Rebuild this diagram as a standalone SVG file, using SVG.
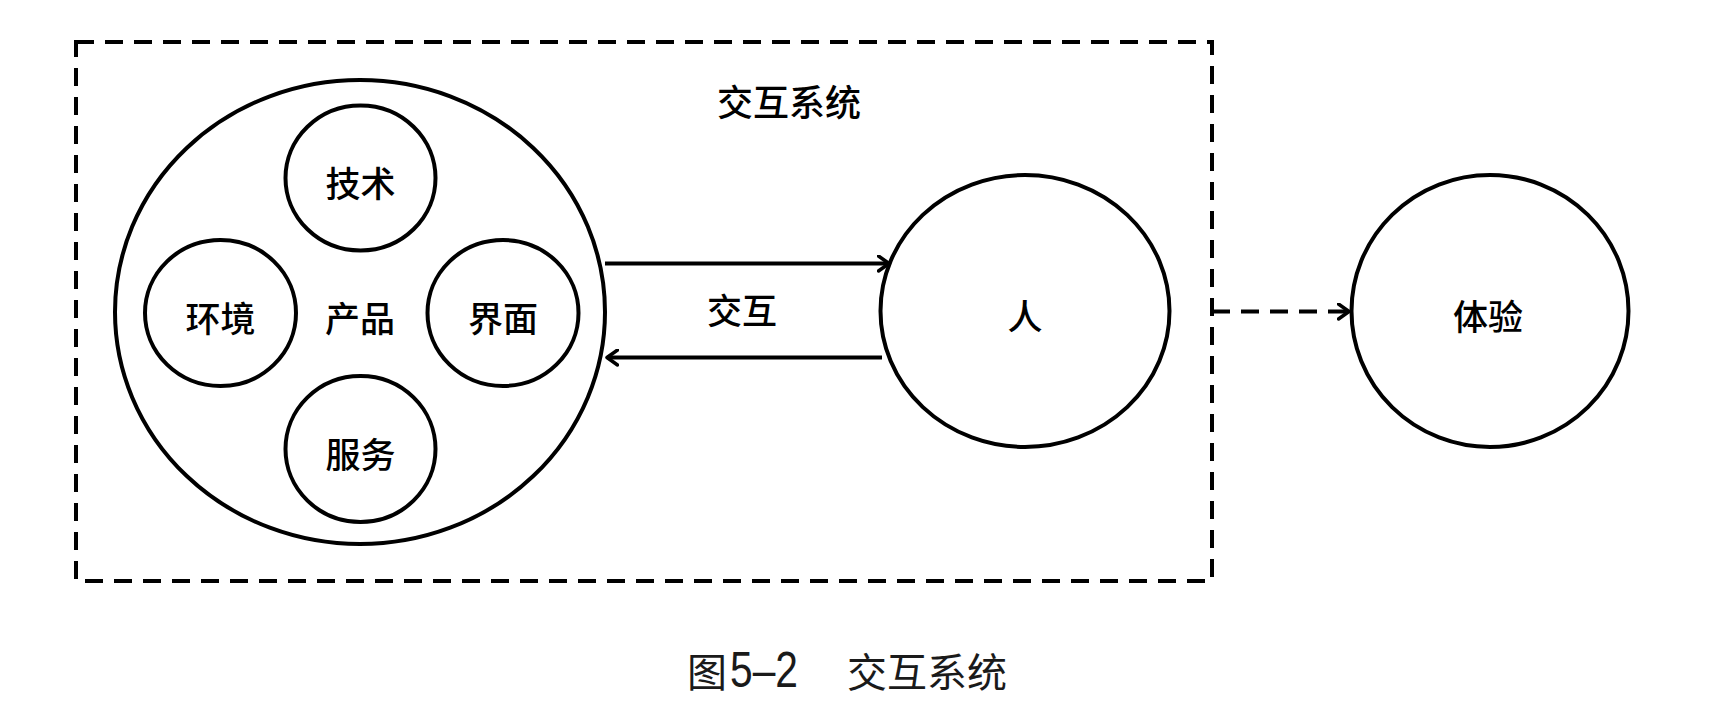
<svg xmlns="http://www.w3.org/2000/svg" width="1714" height="728" viewBox="0 0 1714 728">
  <style>
    .node { fill: #ffffff; stroke: #000000; stroke-width: 4; }
    .lbl { font-family: "Noto Sans CJK SC", "Noto Sans", sans-serif; font-size: 35px; fill: #000000; text-anchor: middle; dominant-baseline: central; font-weight: 500; }
    .edge { fill: none; stroke: #000000; stroke-width: 4; }
    .dash { stroke-dasharray: 18 11; }
    .cap { font-family: "Noto Sans CJK SC", "Noto Sans", sans-serif; font-size: 40px; fill: #1a1a1a; }
    .num { font-family: "Liberation Sans", "Noto Sans", sans-serif; font-size: 50px; }
  </style>
  <defs>
    <marker id="arr" viewBox="0 0 14 18" refX="12" refY="9" markerWidth="14" markerHeight="18" markerUnits="userSpaceOnUse" orient="auto">
      <path d="M1.5,1.5 L12,9 L1.5,16.5" fill="none" stroke="#000" stroke-width="3.5" stroke-linecap="round" stroke-linejoin="round"/>
    </marker>
  </defs>
  <rect width="1714" height="728" fill="#ffffff"/>

  <g id="system-boundary">
    <rect x="76" y="42" width="1136" height="539" fill="none" stroke="#000" stroke-width="4" stroke-dasharray="18 11"/>
    <text class="lbl" x="789" y="100" style="font-size:36px">交互系统</text>
  </g>

  <g id="product">
    <ellipse class="node" cx="360" cy="312" rx="245" ry="232"/>
    <text class="lbl" x="360" y="316">产品</text>
  </g>
  <g id="tech">
    <ellipse class="node" cx="360.5" cy="178" rx="75" ry="72.5"/>
    <text class="lbl" x="360.5" y="181">技术</text>
  </g>
  <g id="env">
    <ellipse class="node" cx="220.5" cy="313" rx="75.5" ry="73"/>
    <text class="lbl" x="220.5" y="316">环境</text>
  </g>
  <g id="ui">
    <ellipse class="node" cx="503" cy="313" rx="75.5" ry="73"/>
    <text class="lbl" x="503" y="316">界面</text>
  </g>
  <g id="service">
    <ellipse class="node" cx="360.5" cy="449" rx="75" ry="73"/>
    <text class="lbl" x="360.5" y="452">服务</text>
  </g>
  <g id="person">
    <ellipse class="node" cx="1025" cy="311" rx="144.5" ry="136"/>
    <text class="lbl" x="1025" y="314">人</text>
  </g>
  <g id="experience">
    <ellipse class="node" cx="1490" cy="311" rx="138.5" ry="136"/>
    <text class="lbl" x="1488" y="314">体验</text>
  </g>

  <g id="connectors">
    <line class="edge" x1="605" y1="263.5" x2="889" y2="263.5" marker-end="url(#arr)"/>
    <line class="edge" x1="882" y1="357.5" x2="607" y2="357.5" marker-end="url(#arr)"/>
    <text class="lbl" x="742" y="308">交互</text>
    <line class="edge dash" x1="1212" y1="311.5" x2="1349" y2="311.5" marker-end="url(#arr)"/>
  </g>

  <g id="caption">
    <text class="cap" y="687"><tspan x="687">图</tspan><tspan class="num" x="730" textLength="68" lengthAdjust="spacingAndGlyphs">5–2</tspan><tspan x="847">交互系统</tspan></text>
  </g>
</svg>
